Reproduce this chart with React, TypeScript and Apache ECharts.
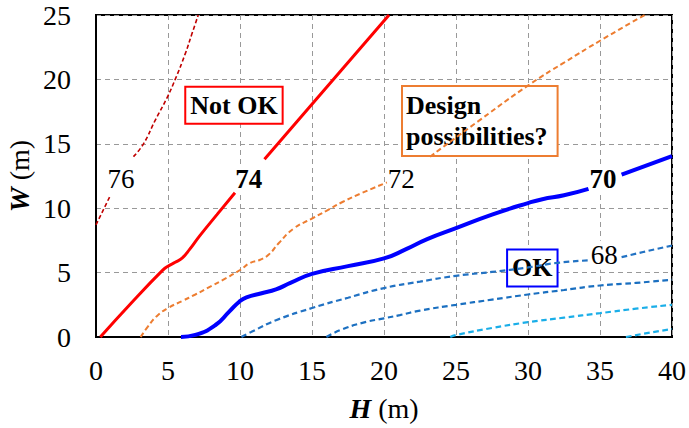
import React, { useEffect, useRef } from "react";
import * as echarts from "echarts";

// Tick values
const xTicks = [0, 5, 10, 15, 20, 25, 30, 35, 40];
const yTicks = [0, 5, 10, 15, 20, 25];

// Contour lines (H, W); null marks a gap (where a label sits)
const line76: ([number, number] | null)[] = [
  [0, 8.7], [0.5, 9.85], [1.0, 11.0], null,
  [2.6, 14.0], [3.3, 15.0], [4.1, 16.8], [4.9, 18.5], [5.5, 20.0], [6.2, 22.0], [6.65, 23.5], [7.1, 25],
];
const line74: ([number, number] | null)[] = [
  [0.3, 0], [2.5, 2.7], [4.6, 5.15], [5.0, 5.5], [5.5, 5.8], [6.0, 6.15], [6.5, 6.8], [7.2, 7.85], [8.4, 9.5], [9.65, 11.2], null,
  [11.7, 13.8], [16.0, 19.37], [20.35, 25],
];
const line72: ([number, number] | null)[] = [
  [3.1, 0], [3.6, 0.8], [4.2, 1.6], [5, 2.25], [6, 2.8], [6.9, 3.3], [8, 3.95], [9, 4.55], [10, 5.2], [10.7, 5.75],
  [11.4, 6.0], [12.0, 6.4], [12.7, 7.3], [13.7, 8.4], [15, 9.2], [16, 9.8], [17.15, 10.5], [18.5, 11.2], [20.2, 12.0], null,
  [23.2, 14.0], [26.6, 16.8], [30.1, 19.6], [32.5, 21.3], [35, 23.0], [38.1, 25],
];
const line70: ([number, number] | null)[] = [
  [5.9, 0], [6.9, 0.16], [8.3, 0.93], [9.25, 1.97], [9.95, 2.74], [10.45, 3.08], [11.5, 3.4], [12.5, 3.7], [13.5, 4.2], [15, 4.9],
  [17.5, 5.5], [20, 6.1], [21.5, 6.8], [23, 7.6], [25, 8.45], [27.5, 9.5], [30, 10.4], [31, 10.7], [32.5, 11.0], [34.2, 11.5], null,
  [36.5, 12.6], [40, 14.05],
];
const line68: ([number, number] | null)[] = [
  [10.1, 0], [10.8, 0.4], [12.5, 1.3], [15, 2.25], [17.5, 3.05], [20, 3.8], [22.5, 4.3], [25, 4.75], [27.5, 5.05],
  [30, 5.4], [32, 5.75], [34.2, 5.95], null,
  [36.5, 6.2], [38, 6.6], [40, 7.1],
];
const line66: ([number, number] | null)[] = [
  [16, 0], [17, 0.55], [18.5, 1.1], [20, 1.45], [21.1, 1.7], [22.5, 2.05], [25, 2.5], [27.5, 2.9], [30, 3.3],
  [32.5, 3.65], [35, 4.0], [37.5, 4.2], [40, 4.45],
];
const line64: ([number, number] | null)[] = [
  [24.6, 0], [25, 0.15], [27.5, 0.7], [30, 1.15], [32.5, 1.5], [35, 1.85], [37.5, 2.2], [40, 2.5],
];
const line62: ([number, number] | null)[] = [
  [36.8, 0], [38.5, 0.35], [40, 0.62],
];

// Contour value labels: [H, W, text, bold]
const contourLabels: [number, number, string, boolean][] = [
  [1.74, 12.3, "76", false],
  [10.6, 12.3, "74", true],
  [21.2, 12.3, "72", false],
  [35.2, 12.3, "70", true],
  [35.3, 6.35, "68", false],
];
// Boxed annotations: [H, W, text, border colour, anchor]
const boxLabels: [number, number, string, string, string][] = [
  [9.58, 18.0, "Not OK", "#FF0000", "center"],
  [21.32, 19.41, "Design\npossibilities?", "#ED7D31", "topleft"],
  [30.3, 5.36, "OK", "#0000FF", "center"],
];
const xName = "H";
const yName = "W";
const unit = " (m)";

const FONT = "Liberation Serif";

function splitSegments(d: ([number, number] | null)[]) {
  const segs: [number, number][][] = [];
  let cur: [number, number][] = [];
  d.forEach((p) => {
    if (p === null) {
      if (cur.length) segs.push(cur);
      cur = [];
    } else cur.push(p);
  });
  if (cur.length) segs.push(cur);
  return segs;
}

export default function App() {
  const ref = useRef<HTMLDivElement>(null);
  useEffect(() => {
    document.body.style.margin = "0";
    if (!ref.current) return;
    const chart = echarts.init(ref.current, undefined, { renderer: "svg" });
    const lineDefs: [([number, number] | null)[], string, number, string][] = [
      [line76, "#C00000", 1.6, "dashed"],
      [line74, "#FF0000", 3, "solid"],
      [line72, "#ED7D31", 2, "dashed"],
      [line70, "#0000FF", 4, "solid"],
      [line68, "#2272C3", 2.2, "dashed"],
      [line66, "#1A6FC0", 2.2, "dashed"],
      [line64, "#1AAEE8", 2.2, "dashed"],
      [line62, "#1AAEE8", 2.2, "dashed"],
    ];
    const series: any[] = [];
    lineDefs.forEach(([d, color, w, type]) => {
      splitSegments(d).forEach((seg) => {
        series.push({
          type: "line",
          data: seg,
          smooth: seg.length > 3 ? 0.5 : false,
          showSymbol: false,
          symbol: "none",
          lineStyle: { color, width: w, type: type === "dashed" ? [w * 2.6, w * 1.6] : "solid" },
          z: 3,
          silent: true,
        });
      });
    });

    chart.setOption({
      animation: false,
      textStyle: { fontFamily: FONT },
      grid: {
        left: 96,
        top: 15,
        right: 17,
        bottom: 91,
        show: true,
        borderColor: "#000",
        borderWidth: 2,
        containLabel: false,
      },
      xAxis: {
        type: "value",
        min: xTicks[0],
        max: xTicks[xTicks.length - 1],
        interval: 5,
        axisLine: { show: true, lineStyle: { color: "#000", width: 2 } },
        axisTick: { show: false },
        axisLabel: { show: false },
        splitLine: { show: true, lineStyle: { color: "#999", width: 1, type: [5, 4] } },
      },
      yAxis: {
        type: "value",
        min: yTicks[0],
        max: yTicks[yTicks.length - 1],
        interval: 5,
        axisLine: { show: true, lineStyle: { color: "#000", width: 2 } },
        axisTick: { show: false },
        axisLabel: { show: false },
        splitLine: { show: true, lineStyle: { color: "#999", width: 1, type: [5, 4] } },
      },
      series,
    });

    const px = (p: [number, number]) => chart.convertToPixel({ gridIndex: 0 }, p) as number[];
    const base = px([xTicks[0], yTicks[0]]);
    const topRight = px([xTicks[xTicks.length - 1], yTicks[yTicks.length - 1]]);
    const g: any[] = [];
    xTicks.forEach((t) => {
      const [x] = px([t, 0]);
      g.push({
        type: "text", x, y: base[1] + 33,
        style: { text: String(t), fontFamily: FONT, fontSize: 28, fill: "#000", align: "center", verticalAlign: "middle" },
      });
    });
    yTicks.forEach((t) => {
      const [, y] = px([0, t]);
      g.push({
        type: "text", x: base[0] - 25, y,
        style: { text: String(t), fontFamily: FONT, fontSize: 28, fill: "#000", align: "right", verticalAlign: "middle" },
      });
    });
    const nameRich = {
      b: { fontFamily: FONT, fontSize: 28, fontWeight: "bold", fontStyle: "italic", fill: "#000" },
      n: { fontFamily: FONT, fontSize: 28, fill: "#000" },
    };
    g.push({
      type: "text", x: (base[0] + topRight[0]) / 2, y: base[1] + 71,
      style: { text: `{b|${xName}}{n|${unit}}`, rich: nameRich, fontFamily: FONT, fontSize: 28, align: "center", verticalAlign: "middle" },
    });
    g.push({
      type: "text", x: 19, y: (base[1] + topRight[1]) / 2, rotation: Math.PI / 2,
      style: { text: `{b|${yName}}{n|${unit}}`, rich: nameRich, fontFamily: FONT, fontSize: 28, align: "center", verticalAlign: "middle" },
    });
    contourLabels.forEach(([h, w, t, b]) => {
      const [x, y] = px([h, w]);
      g.push({
        type: "text", x, y,
        style: {
          text: t, fontFamily: FONT, fontSize: 27, fontWeight: b ? "bold" : "normal", fill: "#000",
          align: "center", verticalAlign: "middle", backgroundColor: "#fff", padding: [1, 2],
        },
      });
    });
    boxLabels.forEach(([h, w, t, c, anchor]) => {
      const [x, y] = px([h, w]);
      const multi = anchor === "topleft";
      g.push({
        type: "text", x, y,
        style: {
          text: t, fontFamily: FONT, fontSize: 26, fontWeight: "bold", fill: "#000", lineHeight: 31,
          align: multi ? "left" : "center", verticalAlign: multi ? "top" : "middle",
          backgroundColor: "#fff", borderColor: c, borderWidth: 2,
          padding: multi ? [3, 9, 3, 3] : [3, 4, 1, 4],
        },
      });
    });
    chart.setOption({ graphic: g });
    return () => chart.dispose();
  }, []);
  return (
    <div>
      <div ref={ref} style={{ width: 689, height: 428 }} />
    </div>
  );
}
